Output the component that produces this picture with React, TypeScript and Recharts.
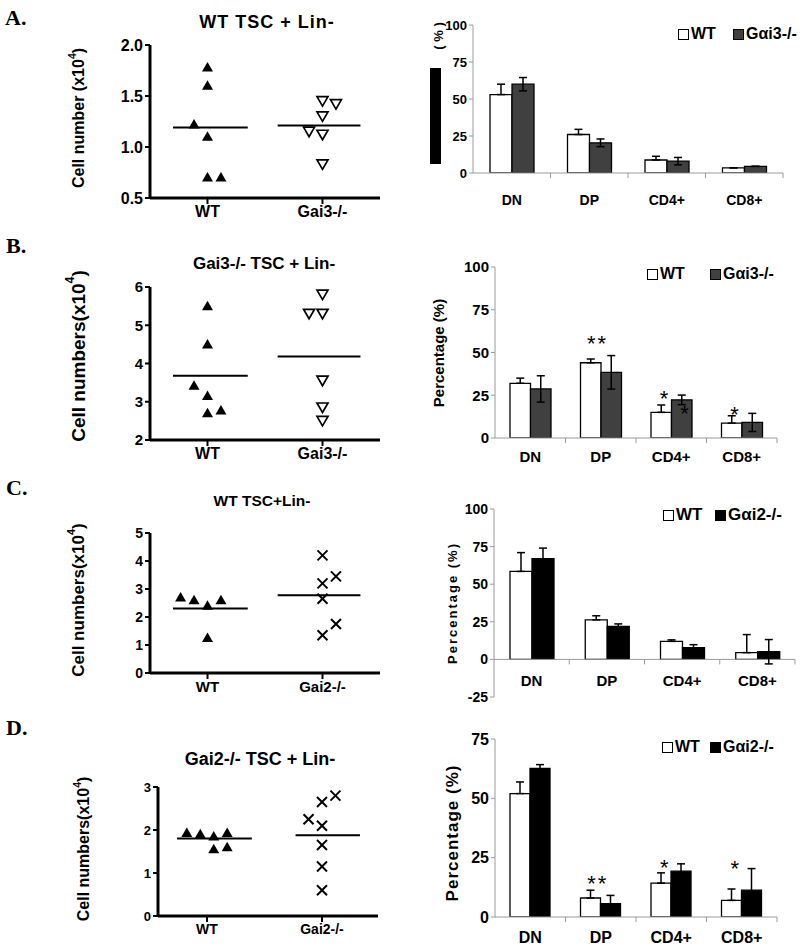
import React from 'react';
import {
  ScatterChart,
  Scatter,
  BarChart,
  Bar,
  ErrorBar,
  XAxis,
  YAxis,
  ReferenceLine,
  ReferenceDot,
  Legend,
} from 'recharts';

const SANS = '"Liberation Sans", Arial, Helvetica, sans-serif';
const NARROW = '"Liberation Sans Narrow", "Arial Narrow", "Liberation Sans", Arial, sans-serif';
const SERIF = '"Liberation Serif", "Times New Roman", Times, serif';
const GRAY = '#9a9a9a';

// ---------- scatter panels: cell numbers (x10^4) ----------
const groupsGai3 = ['WT', 'Gai3-/-'];
const groupsGai2 = ['WT', 'Gai2-/-'];

// jitter columns are in "dot widths" around the group centre
const aWT = [1.78, 1.6, 1.22, 1.1, 0.7, 0.7];
const aWTJit = [0, 0, -1, 0, 0, 1];
const aKO = [1.45, 1.42, 1.3, 1.15, 1.12, 0.83];
const aKOJit = [0, 1, 0, -1, 0, 0];
const aMeans = [1.19, 1.21];

const bWT = [5.5, 4.5, 3.42, 3.15, 2.7, 2.77];
const bWTJit = [0, 0, -1, 0, 0, 1];
const bKO = [5.8, 5.3, 5.3, 3.55, 2.85, 2.5];
const bKOJit = [0, -1, 0, 0, 0, 0];
const bMeans = [3.68, 4.18];

const cWT = [2.7, 2.6, 2.4, 2.6, 1.25];
const cWTJit = [-2, -1, 0, 1, 0];
const cKO = [4.2, 3.2, 3.45, 2.65, 1.75, 1.35];
const cKOJit = [0, 0, 1, 0, 1, 0];
const cMeans = [2.3, 2.78];

const dWT = [1.93, 1.9, 1.85, 1.93, 1.55, 1.6];
const dWTJit = [-1.5, -0.5, 0.5, 1.5, 0.5, 1.5];
const dKO = [2.8, 2.65, 2.25, 2.1, 1.65, 1.15, 0.6];
const dKOJit = [1, 0, -1, 0, 0, 0, 0];
const dMeans = [1.8, 1.88];

// ---------- bar panels: percentage of subsets ----------
const subsets = ['DN', 'DP', 'CD4+', 'CD8+'];

const aWTPct = [53, 26, 8.8, 3.5];
const aWTSem = [7, 3.5, 2.5, 0];
const aKOPct = [60, 20.4, 8, 4.5];
const aKOSem = [4.5, 2.6, 2.5, 0];

const bWTPct = [32, 44, 15, 8.7];
const bWTSem = [3, 2.2, 4.3, 4.3];
const bKOPct = [28.7, 38.4, 22.3, 9.1];
const bKOSem = [7.7, 9.8, 2.8, 5.3];
const bStars = [
  { subset: 'DP', y: 58, mark: '**', group: 'WT' },
  { subset: 'CD4+', y: 26, mark: '*', group: 'WT' },
  { subset: 'CD4+', y: 17, mark: '*', group: 'KO' },
  { subset: 'CD8+', y: 16.5, mark: '*', group: 'WT' },
];

const cWTPct = [58.5, 26.3, 12, 4.5];
const cWTSem = [12.5, 2.7, 1, 12];
const cKOPct = [67, 22, 7.8, 5.1];
const cKOSem = [7, 1.6, 2, 8.1];

const dWTPct = [52, 8, 14.3, 7];
const dWTSem = [4.9, 3.3, 4.3, 4.8];
const dKOPct = [62.6, 5.6, 19.3, 11.3];
const dKOSem = [1.6, 3.5, 3.1, 9.1];
const dStars = [
  { subset: 'DP', y: 16.2, mark: '**', group: 'WT' },
  { subset: 'CD4+', y: 22.8, mark: '*', group: 'WT' },
  { subset: 'CD8+', y: 22.4, mark: '*', group: 'WT' },
];

type Star = { subset: string; y: number; mark: string; group: string };

const JIT = 0.117;
const toPoints = (vals: number[], jit: number[], group: number) =>
  vals.map((v, i) => ({ x: group + jit[i] * JIT, y: v }));

const toRows = (wt: number[], wtE: number[], ko: number[], koE: number[]) =>
  subsets.map((s, i) => ({
    subset: s,
    wt: wt[i],
    wtErr: [0, wtE[i]],
    ko: ko[i],
    koErr: [koE[i], koE[i]],
  }));

// ---------- marker shapes ----------
const TriUp = (p: any) => (
  <polygon points={`${p.cx},${p.cy - 5.5} ${p.cx - 5.5},${p.cy + 4} ${p.cx + 5.5},${p.cy + 4}`} fill="#000" />
);
const TriDown = (p: any) => (
  <polygon
    points={`${p.cx - 5.5},${p.cy - 4.5} ${p.cx + 5.5},${p.cy - 4.5} ${p.cx},${p.cy + 5}`}
    fill="#fff"
    stroke="#000"
    strokeWidth={1.7}
  />
);
const Cross = (p: any) => (
  <g stroke="#000" strokeWidth={2}>
    <line x1={p.cx - 5} y1={p.cy - 5} x2={p.cx + 5} y2={p.cy + 5} />
    <line x1={p.cx - 5} y1={p.cy + 5} x2={p.cx + 5} y2={p.cy - 5} />
  </g>
);

const cellTitle = (x: number, y: number, label: string, fs: number) => () => (
  <text
    x={x}
    y={y}
    transform={`rotate(-90 ${x} ${y})`}
    textAnchor="middle"
    dominantBaseline="central"
    fontFamily={SANS}
    fontWeight="bold"
    fontSize={fs}
    fill="#000"
  >
    {label}(x10
    <tspan dy={-fs * 0.4} fontSize={fs * 0.65}>4</tspan>
    <tspan dy={fs * 0.4}>)</tspan>
  </text>
);

type ScatterProps = {
  top: number;
  height: number;
  margin: { top: number; right: number; bottom: number; left: number };
  yWidth: number;
  xDomain: [number, number];
  yDomain: [number, number];
  yTicks: number[];
  digits: number;
  groups: string[];
  wt: { x: number; y: number }[];
  ko: { x: number; y: number }[];
  koShape: any;
  means: number[];
  meanSpans: [number, number][];
  tickFont: number;
  xFont: number;
  title: () => React.ReactElement;
};

function ScatterPanel(p: ScatterProps) {
  return (
    <div style={{ position: 'absolute', left: 0, top: p.top }}>
      <ScatterChart width={400} height={p.height} margin={p.margin}>
        <XAxis
          type="number"
          dataKey="x"
          domain={p.xDomain}
          ticks={[1, 2]}
          allowDataOverflow
          tickFormatter={(v: number) => p.groups[Math.round(v) - 1]}
          axisLine={{ stroke: '#000', strokeWidth: 3 }}
          tickLine={{ stroke: '#000', strokeWidth: 2 }}
          tickSize={6}
          height={30}
          tick={{ fill: '#000', fontSize: p.xFont, fontWeight: 'bold', fontFamily: SANS }}
        />
        <YAxis
          type="number"
          dataKey="y"
          domain={p.yDomain}
          ticks={p.yTicks}
          interval={0}
          allowDataOverflow
          width={p.yWidth}
          tickFormatter={(v: number) => v.toFixed(p.digits)}
          axisLine={{ stroke: '#000', strokeWidth: 3 }}
          tickLine={{ stroke: '#000', strokeWidth: 2 }}
          tickSize={5}
          tickMargin={2}
          tick={{ fill: '#000', fontSize: p.tickFont, fontWeight: 'bold', fontFamily: SANS }}
          label={{ content: p.title }}
        />
        {p.means.map((m, i) => (
          <ReferenceLine
            key={i}
            segment={[
              { x: i + 1 + p.meanSpans[i][0], y: m },
              { x: i + 1 + p.meanSpans[i][1], y: m },
            ]}
            stroke="#000"
            strokeWidth={2}
          />
        ))}
        <Scatter data={p.wt} shape={TriUp} isAnimationActive={false} />
        <Scatter data={p.ko} shape={p.koShape} isAnimationActive={false} />
      </ScatterChart>
    </div>
  );
}

function SubsetTick(props: any) {
  const { x, y, payload, band, zShift, labelDy, fontSize, fontFamily } = props;
  const ay = y + zShift;
  return (
    <g>
      <line x1={x + band / 2} x2={x + band / 2} y1={ay} y2={ay + 5} stroke={GRAY} />
      <text
        x={x}
        y={ay + labelDy}
        textAnchor="middle"
        fontFamily={fontFamily}
        fontWeight="bold"
        fontSize={fontSize}
        fill="#000"
      >
        {payload.value}
      </text>
    </g>
  );
}

type BarProps = {
  top: number;
  height: number;
  margin: { top: number; right: number; bottom: number; left: number };
  yWidth: number;
  xHeight: number;
  yDomain: [number, number];
  yTicks: number[];
  rows: any[];
  koName: string;
  koFill: string;
  barSize: number;
  band: number;
  zShift: number;
  labelDy: number;
  tickFont: number;
  catFont: number;
  family: string;
  legendLeft: number;
  legendTop: number;
  legendStep: number;
  legendFont: number;
  legendFamily: string;
  stars?: Star[];
  zeroLine?: boolean;
  title: () => React.ReactElement;
};

function LegendBox(props: any) {
  const { payload, step, font, family } = props;
  const items = [...(payload || [])].sort((a: any, b: any) => (a.value === 'WT' ? -1 : b.value === 'WT' ? 1 : 0));
  return (
    <div
      style={{
        display: 'flex',
        alignItems: 'center',
        fontFamily: family,
        fontWeight: 'bold',
        fontSize: font,
        lineHeight: '18px',
        whiteSpace: 'nowrap',
      }}
    >
      {items.map((it: any, i: number) => (
        <div key={i} style={{ display: 'flex', alignItems: 'center', width: i === 0 ? step : 'auto', flexShrink: 0 }}>
          <span
            style={{
              display: 'inline-block',
              flexShrink: 0,
              width: 9,
              height: 9,
              border: '1px solid #000',
              background: it.payload?.fill || it.color,
              marginRight: 2,
            }}
          />
          <span>{it.value}</span>
        </div>
      ))}
    </div>
  );
}

function BarPanel(p: BarProps) {
  const stars = p.stars || [];
  return (
    <div style={{ position: 'absolute', left: 400, top: p.top }}>
      <BarChart width={400} height={p.height} data={p.rows} margin={p.margin} barGap={0} barSize={p.barSize}>
        <XAxis
          dataKey="subset"
          interval={0}
          height={p.xHeight}
          tickSize={0}
          tickMargin={0}
          tickLine={false}
          axisLine={p.zeroLine ? false : { stroke: GRAY }}
          tick={(t: any) => (
            <SubsetTick
              {...t}
              band={p.band}
              zShift={p.zShift}
              labelDy={p.labelDy}
              fontSize={p.catFont}
              fontFamily={p.family}
            />
          )}
        />
        <YAxis
          type="number"
          domain={p.yDomain}
          ticks={p.yTicks}
          interval={0}
          allowDataOverflow
          width={p.yWidth}
          axisLine={{ stroke: GRAY }}
          tickLine={{ stroke: GRAY }}
          tickSize={4}
          tickMargin={2}
          tick={{ fill: '#000', fontSize: p.tickFont, fontWeight: 'bold', fontFamily: p.family }}
          label={{ content: p.title }}
        />
        {p.zeroLine && <ReferenceLine y={0} stroke={GRAY} />}
        <Legend
          layout="horizontal"
          verticalAlign="middle"
          align="center"
          wrapperStyle={{ left: p.legendLeft, top: p.legendTop, width: 'auto' }}
          content={(lp: any) => (
            <LegendBox payload={lp.payload} step={p.legendStep} font={p.legendFont} family={p.legendFamily} />
          )}
        />
        <Bar dataKey="wt" name="WT" fill="#fff" stroke="#000" strokeWidth={1.3} isAnimationActive={false}>
          <ErrorBar dataKey="wtErr" width={4} stroke="#000" strokeWidth={1.5} direction="y" />
        </Bar>
        <Bar dataKey="ko" name={p.koName} fill={p.koFill} stroke="#000" strokeWidth={1.3} isAnimationActive={false}>
          <ErrorBar dataKey="koErr" width={4} stroke="#000" strokeWidth={1.5} direction="y" />
        </Bar>
        {stars.map((s, i) => (
          <ReferenceDot
            key={i}
            x={s.subset}
            y={s.y}
            r={0}
            shape={(d: any) => (
              <text
                x={d.cx + (s.group === 'WT' ? -1 : 1) * (p.barSize / 2) + (s.mark.length > 1 ? 7 : 3)}
                y={d.cy + 12}
                textAnchor="middle"
                fontFamily={SANS}
                fontSize={22}
                letterSpacing={s.mark.length > 1 ? 2 : 0}
                fill="#000"
              >
                {s.mark}
              </text>
            )}
          />
        ))}
      </BarChart>
    </div>
  );
}

const pctTitle = (x: number, y: number, fs: number, spacing: number, family: string) => () => (
  <text
    x={x}
    y={y}
    transform={`rotate(-90 ${x} ${y})`}
    textAnchor="middle"
    dominantBaseline="central"
    fontFamily={family}
    fontWeight="bold"
    fontSize={fs}
    letterSpacing={spacing}
    fill="#000"
  >
    Percentage (%)
  </text>
);

const maskedTitle = () => (
  <g>
    <rect x={30} y={68} width={11} height={96} fill="#000" />
    <text
      x={38}
      y={36}
      transform="rotate(-90 38 36)"
      textAnchor="middle"
      dominantBaseline="central"
      fontFamily={NARROW}
      fontWeight="bold"
      fontSize={13}
    >
      ( % )
    </text>
  </g>
);

export default function App() {
  const rowsA = toRows(aWTPct, aWTSem, aKOPct, aKOSem);
  const rowsB = toRows(bWTPct, bWTSem, bKOPct, bKOSem);
  const rowsC = toRows(cWTPct, cWTSem, cKOPct, cKOSem);
  const rowsD = toRows(dWTPct, dWTSem, dKOPct, dKOSem);
  const wtSpan: [number, number] = [-0.3, 0.35];
  const koSpan: [number, number] = [-0.39, 0.33];

  return (
    <div style={{ position: 'absolute', left: 0, top: 0, width: 800, height: 949, background: '#fff', overflow: 'hidden' }}>
      {/* A */}
      <ScatterPanel
        top={0}
        height={230}
        margin={{ top: 45, right: 20, bottom: 2, left: 0 }}
        yWidth={150}
        xDomain={[0.5, 2.5]}
        yDomain={[0.5, 2]}
        yTicks={[0.5, 1, 1.5, 2]}
        digits={1}
        groups={groupsGai3}
        wt={toPoints(aWT, aWTJit, 1)}
        ko={toPoints(aKO, aKOJit, 2)}
        koShape={TriDown}
        means={aMeans}
        meanSpans={[wtSpan, koSpan]}
        tickFont={16}
        xFont={16}
        title={cellTitle(78, 118, 'Cell number ', 16)}
      />
      <BarPanel
        top={0}
        height={215}
        margin={{ top: 25, right: 17, bottom: 12, left: 0 }}
        yWidth={73}
        xHeight={30}
        yDomain={[0, 100]}
        yTicks={[0, 25, 50, 75, 100]}
        rows={rowsA}
        koName="Gαi3-/-"
        koFill="#404040"
        barSize={22}
        band={77.5}
        zShift={0}
        labelDy={32}
        tickFont={13}
        catFont={14}
        family={NARROW}
        legendLeft={278}
        legendTop={25}
        legendStep={55}
        legendFont={16}
        legendFamily={NARROW}
        title={maskedTitle}
      />

      {/* B */}
      <ScatterPanel
        top={230}
        height={250}
        margin={{ top: 57, right: 20, bottom: 10, left: 0 }}
        yWidth={150}
        xDomain={[0.5, 2.5]}
        yDomain={[2, 6]}
        yTicks={[2, 3, 4, 5, 6]}
        digits={0}
        groups={groupsGai3}
        wt={toPoints(bWT, bWTJit, 1)}
        ko={toPoints(bKO, bKOJit, 2)}
        koShape={TriDown}
        means={bMeans}
        meanSpans={[wtSpan, koSpan]}
        tickFont={15}
        xFont={16}
        title={cellTitle(78, 126, 'Cell numbers', 19)}
      />
      <BarPanel
        top={230}
        height={250}
        margin={{ top: 37, right: 23, bottom: 12, left: 0 }}
        yWidth={95}
        xHeight={30}
        yDomain={[0, 100]}
        yTicks={[0, 25, 50, 75, 100]}
        rows={rowsB}
        koName="Gαi3-/-"
        koFill="#404040"
        barSize={20.5}
        band={70.5}
        zShift={0}
        labelDy={24}
        tickFont={15}
        catFont={15}
        family={SANS}
        legendLeft={247}
        legendTop={35}
        legendStep={63}
        legendFont={16}
        legendFamily={SANS}
        stars={bStars}
        title={pctTitle(38, 123, 15, 0, SANS)}
      />

      {/* C */}
      <ScatterPanel
        top={470}
        height={240}
        margin={{ top: 63, right: 20, bottom: 7, left: 0 }}
        yWidth={150}
        xDomain={[0.5, 2.5]}
        yDomain={[0, 5]}
        yTicks={[0, 1, 2, 3, 4, 5]}
        digits={0}
        groups={groupsGai2}
        wt={toPoints(cWT, cWTJit, 1)}
        ko={toPoints(cKO, cKOJit, 2)}
        koShape={Cross}
        means={cMeans}
        meanSpans={[wtSpan, koSpan]}
        tickFont={14}
        xFont={15}
        title={cellTitle(78, 130, 'Cell numbers', 17)}
      />
      <BarPanel
        top={470}
        height={250}
        margin={{ top: 39, right: 5, bottom: 8, left: 0 }}
        yWidth={94}
        xHeight={15}
        yDomain={[-25, 100]}
        yTicks={[-25, 0, 25, 50, 75, 100]}
        rows={rowsC}
        koName="Gαi2-/-"
        koFill="#000"
        barSize={22}
        band={75.25}
        zShift={-37.6}
        labelDy={27}
        tickFont={14}
        catFont={15}
        family={SANS}
        legendLeft={263}
        legendTop={36}
        legendStep={52}
        legendFont={17}
        legendFamily={NARROW}
        zeroLine
        title={pctTitle(52, 133, 13, 2, SANS)}
      />

      {/* D */}
      <ScatterPanel
        top={700}
        height={249}
        margin={{ top: 87, right: 22, bottom: 3, left: 0 }}
        yWidth={158}
        xDomain={[0.574, 2.487]}
        yDomain={[0, 3]}
        yTicks={[0, 1, 2, 3]}
        digits={0}
        groups={groupsGai2}
        wt={toPoints(dWT, dWTJit, 1)}
        ko={toPoints(dKO, dKOJit, 2)}
        koShape={Cross}
        means={dMeans}
        meanSpans={[[-0.26, 0.39], [-0.23, 0.33]]}
        tickFont={13}
        xFont={14}
        title={cellTitle(83, 149, 'Cell numbers', 16)}
      />
      <BarPanel
        top={700}
        height={249}
        margin={{ top: 39, right: 23, bottom: 2, left: 0 }}
        yWidth={95}
        xHeight={30}
        yDomain={[0, 75]}
        yTicks={[0, 25, 50, 75]}
        rows={rowsD}
        koName="Gαi2-/-"
        koFill="#000"
        barSize={20}
        band={70.5}
        zShift={0}
        labelDy={26}
        tickFont={16}
        catFont={16}
        family={SANS}
        legendLeft={262}
        legendTop={38}
        legendStep={48}
        legendFont={16}
        legendFamily={SANS}
        stars={dStars}
        title={pctTitle(52, 133, 17, 1, SANS)}
      />

      {/* panel letters and titles */}
      <svg width={800} height={949} style={{ position: 'absolute', left: 0, top: 0, pointerEvents: 'none' }}>
        <g fontFamily={SERIF} fontWeight="bold" fontSize={22} fill="#000">
          <text x={5} y={25}>A.</text>
          <text x={6} y={253}>B.</text>
          <text x={6} y={495}>C.</text>
          <text x={6} y={735}>D.</text>
        </g>
        <g fontFamily={SANS} fontWeight="bold" fill="#000" textAnchor="middle">
          <text x={267} y={28} fontSize={18} letterSpacing={1}>WT TSC + Lin-</text>
          <text x={264} y={269} fontSize={17}>Gai3-/- TSC + Lin-</text>
          <text x={262} y={506} fontSize={15.5}>WT TSC+Lin-</text>
          <text x={260} y={765} fontSize={18}>Gai2-/- TSC + Lin-</text>
        </g>
      </svg>
    </div>
  );
}
